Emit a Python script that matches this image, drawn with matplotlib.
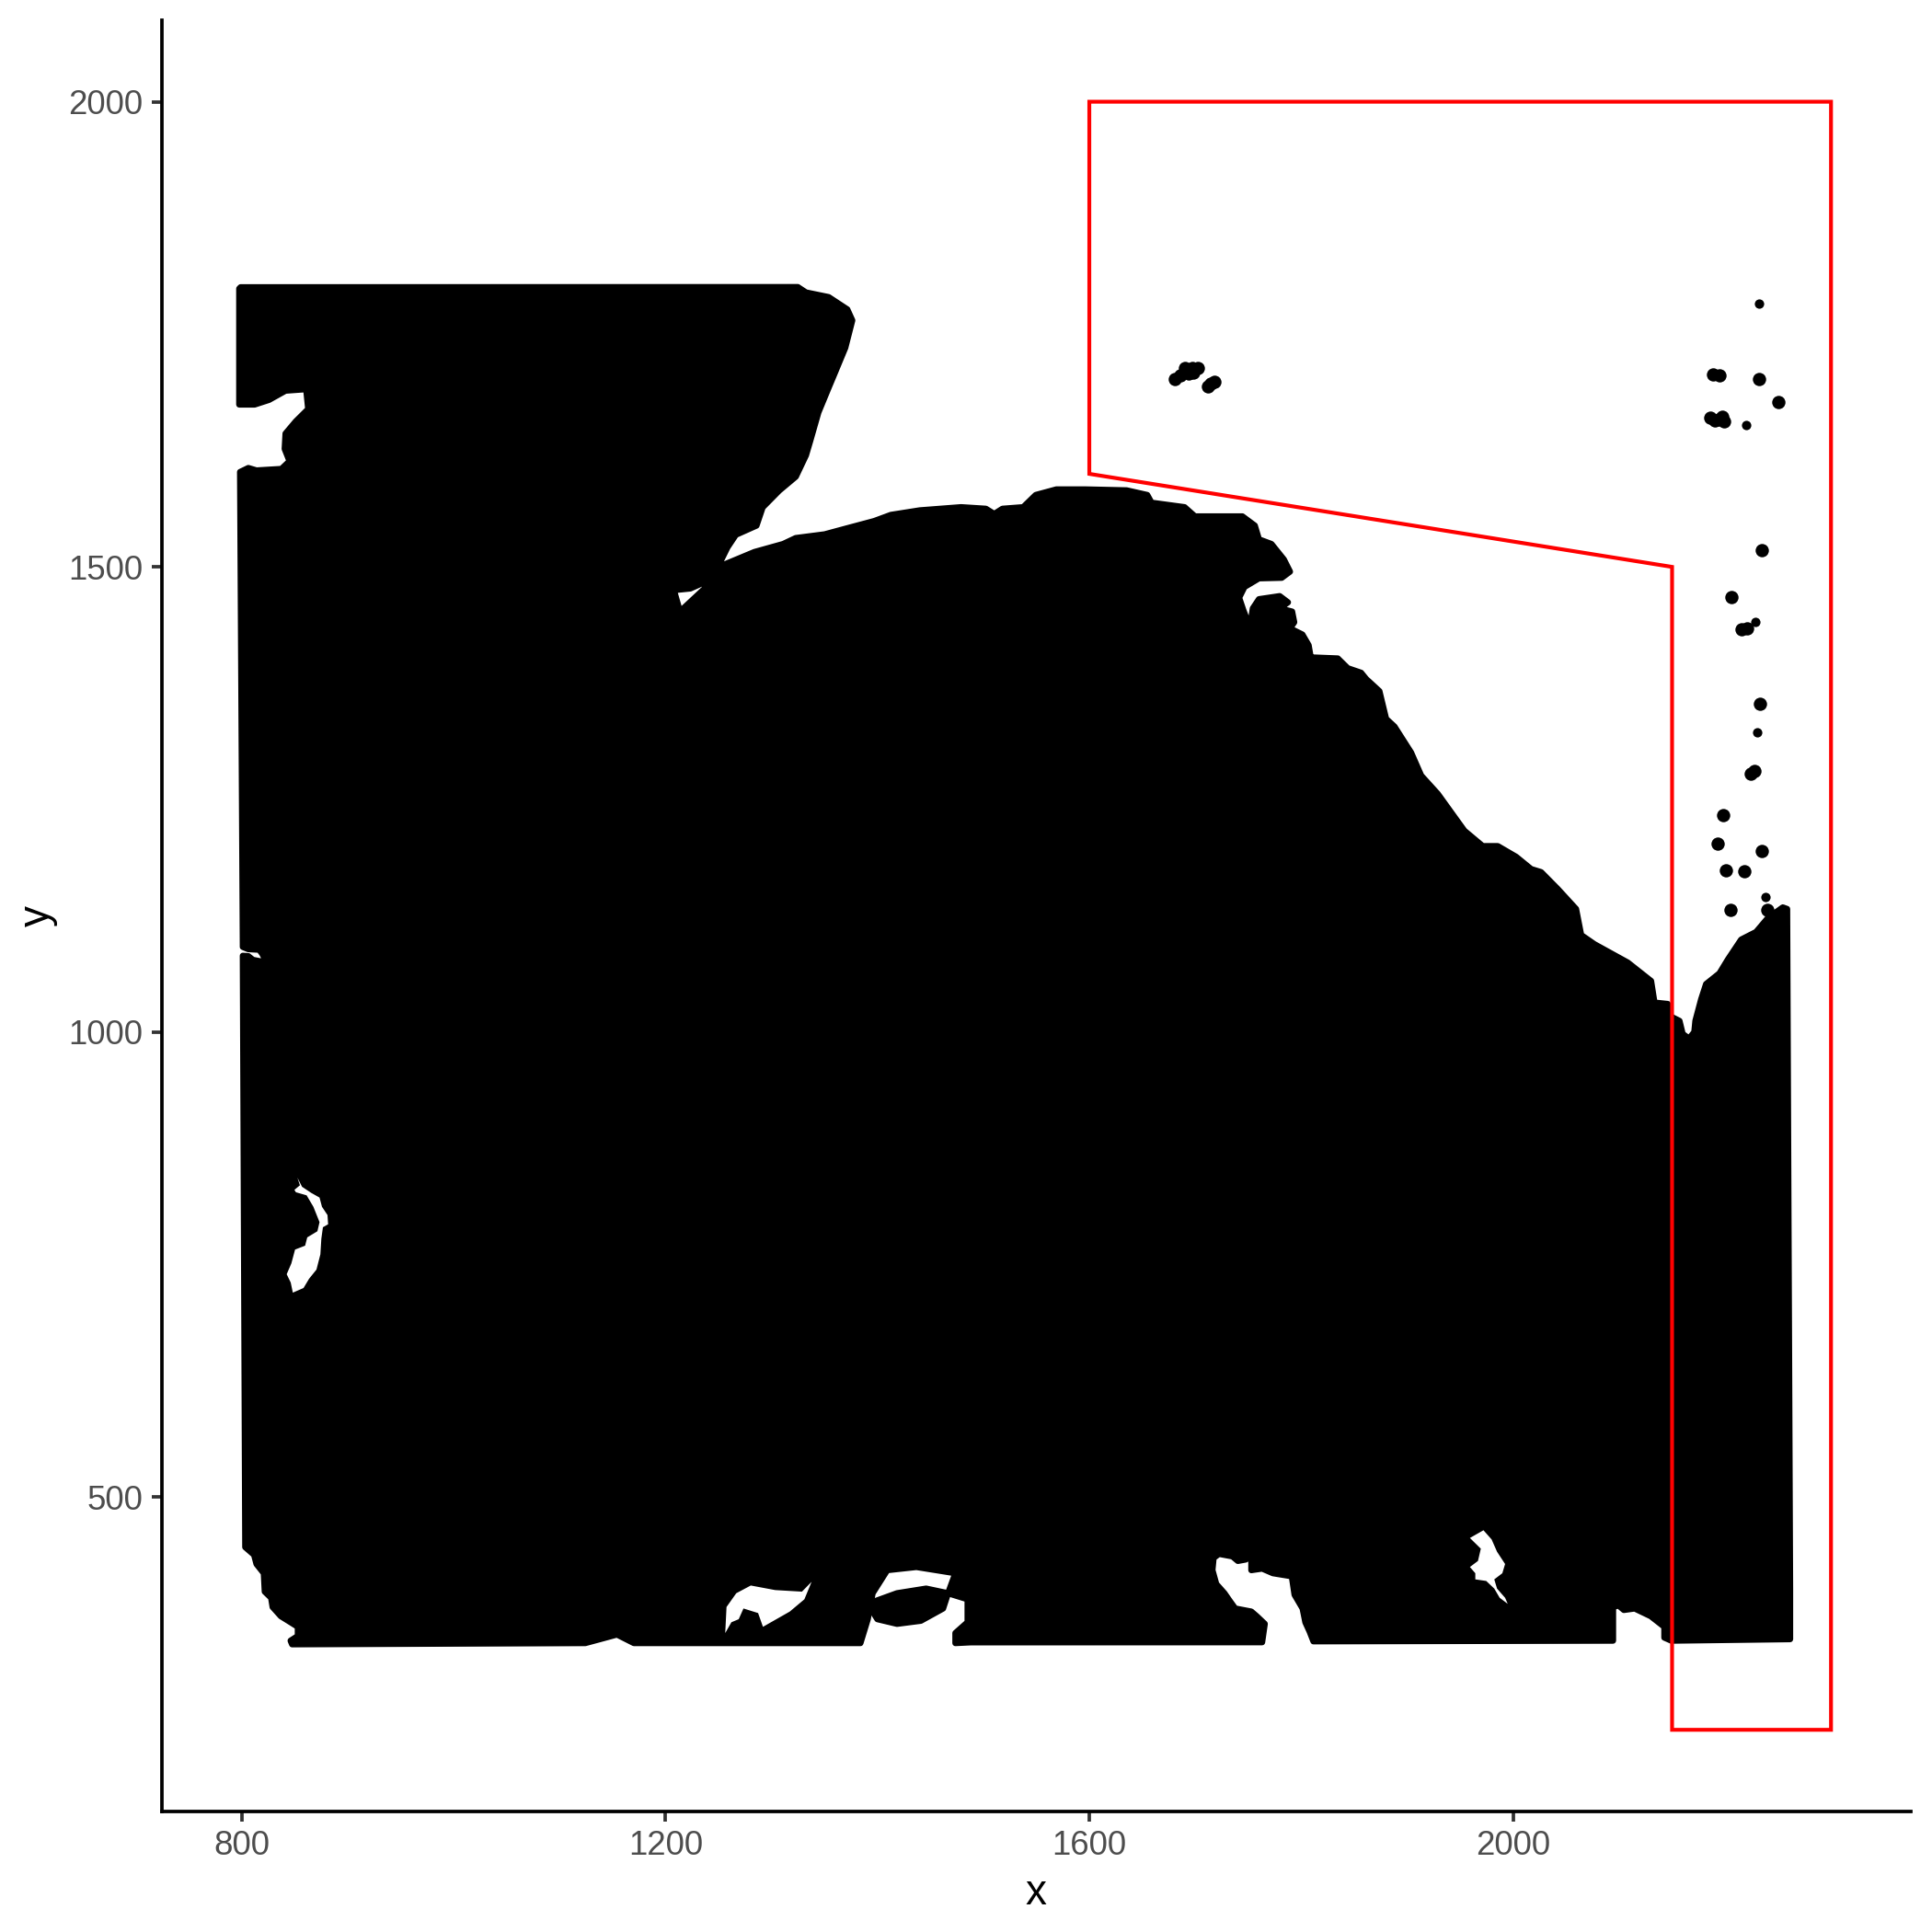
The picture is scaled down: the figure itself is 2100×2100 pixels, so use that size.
import numpy as np
import matplotlib
matplotlib.use("Agg")
import matplotlib.pyplot as plt
from matplotlib.patches import Polygon

# outline of the tissue (spot cloud), traced clockwise from the top-left corner
tissue_outline = [
    (797.7, 1799.1), (799.0, 1800.6), (1324.9, 1800.8), (1332.6, 1795.0), (1354.0, 1790.0),
    (1371.6, 1776.8), (1376.3, 1765.0), (1369.7, 1735.6), (1360.0, 1709.0), (1354.0, 1692.7),
    (1344.3, 1666.0), (1336.5, 1635.0), (1332.6, 1620.0), (1323.0, 1597.0), (1307.3, 1582.0),
    (1291.7, 1564.0), (1285.9, 1544.4), (1266.4, 1534.5), (1258.5, 1521.0), (1250.7, 1503.0),
    (1243.0, 1486.7), (1223.5, 1476.8), (1207.9, 1475.0), (1213.7, 1452.0),
    (1244.8, 1485.0), (1256.5, 1503.0), (1283.9, 1516.0), (1311.0, 1524.6), (1322.9, 1531.0),
    (1350.2, 1535.0), (1369.7, 1541.0), (1397.0, 1549.3), (1412.7, 1555.9), (1440.0, 1560.8),
    (1479.0, 1564.2), (1502.4, 1562.5), (1510.3, 1556.9), (1518.0, 1562.5), (1537.6, 1564.2),
    (1549.4, 1577.3), (1568.9, 1583.3), (1596.2, 1583.3), (1635.2, 1582.3), (1654.7, 1577.3),
    (1658.7, 1569.0), (1689.9, 1564.2), (1699.7, 1554.3), (1744.5, 1554.3), (1756.2, 1544.4),
    (1760.1, 1529.6), (1771.9, 1524.6), (1783.6, 1508.0), (1789.4, 1494.9), (1781.6, 1488.3),
    (1760.1, 1487.7), (1746.4, 1478.4), (1741.4, 1466.9), (1745.3, 1453.7), (1751.6, 1434.9),
    (1754.3, 1455.4), (1760.1, 1465.3), (1779.7, 1468.6), (1787.5, 1461.9), (1779.7, 1455.4),
    (1791.4, 1452.0), (1793.4, 1440.5), (1789.4, 1433.9), (1801.1, 1427.3), (1807.0, 1415.8),
    (1809.0, 1402.6), (1812.4, 1402.6), (1834.5, 1401.6), (1843.9, 1391.1), (1856.5, 1386.2),
    (1861.2, 1379.6), (1873.8, 1366.4), (1880.1, 1336.7), (1888.0, 1328.4), (1903.7, 1300.4),
    (1913.2, 1275.7), (1928.9, 1256.0), (1947.7, 1226.3), (1954.0, 1216.4), (1971.3, 1199.9),
    (1985.5, 1199.9), (2002.8, 1188.4), (2017.0, 1175.2), (2026.4, 1171.9), (2042.1, 1153.8),
    (2059.4, 1132.3), (2064.2, 1104.3), (2076.8, 1094.4), (2108.2, 1074.7), (2130.2, 1054.9),
    (2133.4, 1031.7), (2145.9, 1030.2), (2148.5, 1016.9), (2157.0, 1012.0), (2160.0, 998.0),
    (2166.0, 993.0), (2171.0, 1000.0), (2172.0, 1012.0), (2177.4, 1035.1), (2182.1, 1051.6),
    (2194.7, 1063.1), (2202.6, 1077.9), (2215.2, 1099.4), (2229.3, 1107.6), (2240.3, 1122.4),
    (2254.5, 1134.0), (2258.6, 1132.3), (2261.4, 400.0), (2261.4, 347.4),
    (2149.3, 345.8), (2142.7, 349.1), (2142.7, 360.7), (2129.9, 372.1), (2114.7, 380.4),
    (2104.5, 378.8), (2099.4, 383.7), (2094.3, 382.0), (2094.3, 345.8),
    (1811.5, 345.1), (1807.9, 355.6), (1803.9, 365.6), (1801.3, 380.4), (1793.7, 395.2),
    (1791.1, 415.0), (1773.3, 418.3), (1763.1, 423.3), (1752.9, 421.6), (1752.9, 434.8),
    (1750.4, 441.4), (1747.8, 433.1), (1740.2, 431.5), (1735.1, 436.4), (1722.4, 439.1),
    (1717.3, 434.8), (1716.2, 421.6), (1719.8, 406.7), (1727.5, 396.8), (1732.5, 388.6),
    (1737.7, 380.4), (1752.9, 377.1), (1758.0, 372.1), (1765.6, 363.9), (1763.1, 344.1),
    (1488.0, 344.0), (1473.6, 343.2), (1473.6, 354.0), (1485.1, 365.6), (1485.1, 390.3),
    (1466.7, 396.8), (1473.6, 418.3), (1436.8, 425.0), (1409.3, 421.6), (1395.5, 396.8),
    (1390.9, 368.9), (1384.0, 343.2),
    (1170.2, 343.2), (1154.2, 352.4), (1138.0, 347.4), (1124.3, 343.2), (847.6, 341.9),
    (846.2, 345.8), (853.0, 350.8), (853.0, 360.7), (846.2, 365.6), (837.0, 372.1),
    (829.2, 382.0), (827.8, 391.9), (821.8, 398.5), (820.9, 418.3), (814.0, 428.2),
    (811.7, 438.1), (803.4, 446.3),
    (801.1, 1082.0), (806.3, 1081.6), (810.7, 1077.6), (817.9, 1076.0), (826.6, 1073.3),
    (823.1, 1076.0), (819.4, 1084.2), (816.5, 1088.5), (806.3, 1089.1), (801.1, 1091.5),
    (798.5, 1602.0), (806.3, 1606.3), (814.0, 1603.7), (837.5, 1605.3), (845.2, 1613.6),
    (840.6, 1626.8), (841.4, 1643.3), (851.1, 1656.4), (862.8, 1669.6), (860.9, 1691.0),
    (841.4, 1689.4), (825.8, 1679.5), (812.2, 1674.5), (797.7, 1674.5),
]

# black tongue inside the bottom bay
tongue_outline = [
    (1390.9, 385.4), (1418.5, 396.8), (1446.0, 401.8), (1466.7, 396.8), (1462.0, 380.4),
    (1441.0, 367.2), (1418.5, 363.9), (1400.0, 368.9),
]

# empty areas inside the tissue
hole_left = [
    (852.6, 843.5), (857.0, 833.7), (865.7, 827.1), (873.5, 822.1), (875.8, 812.2),
    (881.0, 803.3), (881.6, 793.4), (876.7, 790.2), (875.2, 777.8), (874.3, 761.1),
    (870.6, 744.7), (863.6, 734.8), (858.4, 724.9), (848.3, 719.9), (846.3, 730.8),
    (842.5, 739.7), (846.9, 751.3), (850.4, 766.2), (859.9, 770.4), (861.9, 779.3),
    (871.5, 785.9), (873.5, 795.7), (867.7, 812.2), (861.3, 824.5), (851.2, 827.8),
    (849.8, 830.4), (855.0, 835.3),
]
hole_bottom_a = [
    (1256.4, 354.0), (1257.6, 382.0), (1266.8, 396.8), (1280.5, 405.1), (1303.5, 400.2),
    (1328.8, 398.5), (1337.9, 409.1), (1331.1, 390.3), (1317.3, 377.1), (1292.0, 360.7),
    (1287.4, 375.5), (1273.6, 380.4), (1269.1, 368.9), (1262.2, 365.6),
]
hole_bottom_b = [
    (1959.2, 456.2), (1972.0, 464.5), (1979.7, 454.6), (1984.8, 441.4), (1992.4, 428.2),
    (1989.8, 418.3), (1982.2, 411.7), (1984.8, 401.8), (1992.4, 391.9), (1994.9, 385.4),
    (1987.3, 391.9), (1982.2, 401.8), (1974.6, 410.0), (1964.3, 411.7), (1964.3, 418.3),
    (1959.2, 425.0), (1966.8, 431.5), (1969.5, 444.7),
]

# isolated spots outside the main tissue
stray_x = [1681, 1686, 1690, 1694, 1697, 1702, 1690, 1698, 1712, 1718, 1715,
           2189, 2195, 2232, 2250, 2186, 2190, 2194, 2199, 2197,
           2235, 2206, 2216, 2221, 2233, 2224, 2228, 2198,
           2193, 2235, 2201, 2218, 2205, 2240]
stray_y = [1702, 1706, 1710, 1708, 1714, 1714, 1714, 1709, 1694, 1699, 1697,
           1707, 1706, 1702, 1677, 1660, 1657, 1658, 1656, 1661,
           1518, 1468, 1433, 1434, 1353, 1278, 1281, 1233,
           1203, 1195, 1174, 1173, 1131, 1131]
# the fainter, smaller spots
faint_x = [2232, 2220, 2229, 2230, 2238]
faint_y = [1783, 1652, 1441, 1322, 1145]

# selection polygon (red)
roi_x = [1600, 2300, 2300, 2150, 2150, 1600]
roi_y = [2000, 2000, 250, 250, 1500, 1600]

x_ticks = [800, 1200, 1600, 2000]
y_ticks = [500, 1000, 1500, 2000]

plt.rcParams["font.family"] = ["Liberation Sans", "DejaVu Sans"]

fig = plt.figure(figsize=(7, 7), dpi=300)
ax = fig.add_axes([0.08395, 0.06252, 0.90491, 0.92696])


def xy(points):
    arr = np.array(points)
    return arr[:, 0], arr[:, 1]


ax.fill(*xy(tissue_outline), color="black", ec="black", lw=1.6,
        joinstyle="round", zorder=2)
ax.fill(*xy(tongue_outline), color="black", ec="black", lw=1.6,
        joinstyle="round", zorder=2)
for hole in (hole_left, hole_bottom_a, hole_bottom_b):
    ax.fill(*xy(hole), color="white", ec="none", zorder=3)
ax.scatter(stray_x, stray_y, s=12, color="black", linewidths=0, zorder=3)
ax.scatter(faint_x, faint_y, s=6, color="black", linewidths=0, zorder=3)
ax.add_patch(Polygon(np.column_stack([roi_x, roi_y]), closed=True, fill=False,
                     ec="red", lw=1.0, joinstyle="miter", zorder=4))

ax.set_xlim(725, 2375)
ax.set_ylim(162.5, 2087.5)
ax.set_xticks(x_ticks)
ax.set_yticks(y_ticks)

for side in ("top", "right"):
    ax.spines[side].set_visible(False)
for side in ("left", "bottom"):
    ax.spines[side].set_linewidth(0.9)
    ax.spines[side].set_color("black")
ax.tick_params(length=2.75, width=0.9, color="#333333",
               labelcolor="#4D4D4D", labelsize=8.8, pad=2.2)
ax.set_xlabel("x", fontsize=11, color="black", labelpad=2.75)
ax.set_ylabel("y", fontsize=11, color="black", labelpad=2.75)

fig.savefig("out.png", dpi=300, facecolor="white")
